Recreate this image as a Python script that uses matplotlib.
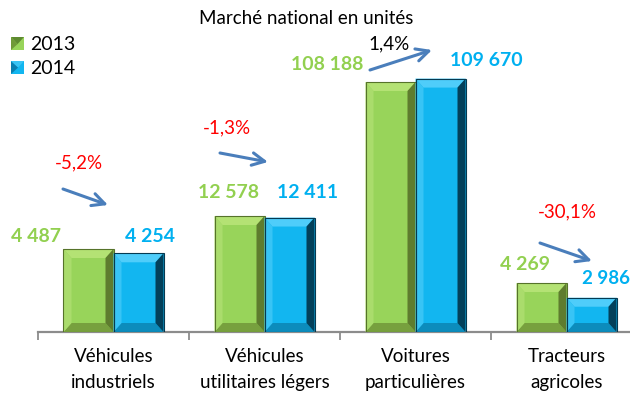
import matplotlib
matplotlib.use("Agg")
import matplotlib.pyplot as plt
from matplotlib.patches import Polygon, Rectangle

plt.rcParams['font.family'] = ['Lato', 'DejaVu Sans']

# ---- data ----
categories = ["Véhicules\nindustriels", "Véhicules\nutilitaires légers",
              "Voitures\nparticulières", "Tracteurs\nagricoles"]
series_names = ["2013", "2014"]
values_2013 = [4487, 12578, 108188, 4269]
values_2014 = [4254, 12411, 109670, 2986]
pct_change = ["-5,2%", "-1,3%", "1,4%", "-30,1%"]
title = "Marché national en unités"

# chart is not drawn to scale across categories: displayed height of 2013 bar per group (layout)
group_height = [83, 116, 250, 49]

W, H = 630, 401
fig = plt.figure(figsize=(W / 100, H / 100), dpi=100)
AX_L, AX_B, AX_W, AX_H = 38, 69, 604, 332
ax = fig.add_axes([AX_L / W, AX_B / H, AX_W / W, AX_H / H])
ax.set_xlim(-0.5, 3.5)
ax.set_ylim(0, AX_H)
ax.patch.set_alpha(0)

def px(x, y):
    """pixel (from top-left) -> data coords"""
    return ((x - AX_L) / 151.0 - 0.5, (H - AX_B) - y)

green = dict(face="#98d45a", top="#b4e274", left="#aadc6c", right="#5e7c2e", bottom="#77a03e", edge="#56732a")
blue = dict(face="#12b6f0", top="#4fcdfa", left="#38c4f5", right="#03405a", bottom="#0c8cbc", edge="#053a52")

bw = 50 / 151.0
xs = list(range(len(categories)))
h13 = [g for g in group_height]
h14 = [g * v14 / v13 for g, v13, v14 in zip(group_height, values_2013, values_2014)]

bars13 = ax.bar([x - bw / 2 for x in xs], h13, width=bw, color=green["face"], zorder=2)
bars14 = ax.bar([x + bw / 2 for x in xs], h14, width=bw, color=blue["face"], zorder=2)

def bevel(rect, c, bxp=8, byp=9):
    x0, y0 = rect.get_x(), rect.get_y()
    x1, y1 = x0 + rect.get_width(), y0 + rect.get_height()
    bx = bxp / 151.0
    by = min(byp, (y1 - y0) / 3)
    polys = [
        ([(x0, y1), (x1, y1), (x1 - bx, y1 - by), (x0 + bx, y1 - by)], c["top"]),
        ([(x0, y0), (x1, y0), (x1 - bx, y0 + by), (x0 + bx, y0 + by)], c["bottom"]),
        ([(x0, y0), (x0 + bx, y0 + by), (x0 + bx, y1 - by), (x0, y1)], c["left"]),
        ([(x1, y0), (x1 - bx, y0 + by), (x1 - bx, y1 - by), (x1, y1)], c["right"]),
    ]
    for pts, col in polys:
        ax.add_patch(Polygon(pts, closed=True, facecolor=col, edgecolor="none", zorder=3))
    ax.add_patch(Rectangle((x0, y0), x1 - x0, y1 - y0, fill=False, edgecolor=c["edge"], lw=0.8, zorder=4))

for r in bars13:
    bevel(r, green)
for r in bars14:
    bevel(r, blue)

# axis
for s in ["top", "right", "left"]:
    ax.spines[s].set_visible(False)
ax.spines["bottom"].set_color("#8c8c8c")
ax.spines["bottom"].set_linewidth(1.6)
ax.set_yticks([])
ax.set_xticks([-0.5, 0.5, 1.5, 2.5, 3.5])
ax.set_xticklabels([])
ax.tick_params(axis="x", length=6, width=1.3, color="#8c8c8c", direction="out")
for x, lab in zip(xs, categories):
    ax.text(x, -16, lab, ha="center", va="top", fontsize=13.5, color="#000000", linespacing=1.65)

def fmt(v):
    return f"{v:,}".replace(",", " ")

# value labels (pixel anchor positions)
lab13_pos = [(36, 236), (228, 193), (327, 65), (525, 265)]
lab14_pos = [(150, 236), (308, 193), (486, 60), (606, 279)]
for v, (x, y) in zip(values_2013, lab13_pos):
    ax.text(*px(x, y), fmt(v), ha="center", va="center", fontsize=14, fontweight="bold", color="#92d050")
for i, (v, (x, y)) in enumerate(zip(values_2014, lab14_pos)):
    fs = 13.5 if i == len(values_2014) - 1 else 14
    ax.text(*px(x, y), fmt(v), ha="center", va="center", fontsize=fs, fontweight="bold", color="#00b0f0")

pct_pos = [(79, 163), (227, 128), (389, 44), (567, 212)]
for p, (x, y) in zip(pct_change, pct_pos):
    col = "#ff0000" if p.startswith("-") else "#000000"
    ax.text(*px(x, y), p, ha="center", va="center", fontsize=13.5, color=col)

arrows = [((63, 189), (108, 205)), ((220, 153), (268, 162)),
          ((370, 70), (432, 50)), ((540, 243), (592, 261))]
for (s, e) in arrows:
    ax.annotate("", xy=px(*e), xytext=px(*s),
                arrowprops=dict(arrowstyle="->,head_length=0.9,head_width=0.45",
                                color="#4a7ebb", lw=2.2, shrinkA=0, shrinkB=0))

# title
fig.text(306 / W, 1 - 18 / H, title, ha="center", va="center", fontsize=13.5, color="#000000")

# legend
leg_cols = [green, blue]
for i, (name, c) in enumerate(zip(series_names, leg_cols)):
    y_top = 37 + i * 24
    lax = fig.add_axes([11 / W, 1 - (y_top + 13) / H, 13 / W, 13 / H])
    lax.set_xlim(0, 1); lax.set_ylim(0, 1); lax.axis("off")
    lax.add_patch(Rectangle((0, 0), 1, 1, facecolor=c["face"], edgecolor="none"))
    if i == 0:
        lax.add_patch(Polygon([(0, 1), (1, 1), (0.5, 0.45)], facecolor="#5e8a30", edgecolor="none"))
        lax.add_patch(Polygon([(0, 0), (0, 1), (0.5, 0.45)], facecolor="#6f9a38", edgecolor="none"))
    else:
        lax.add_patch(Polygon([(0, 0), (0, 1), (0.55, 0.5)], facecolor="#0a7fb0", edgecolor="none"))
        lax.add_patch(Polygon([(0, 1), (1, 1), (0.55, 0.5)], facecolor="#3ac4f4", edgecolor="none"))
    fig.text(30 / W, 1 - (y_top + 7) / H, name, ha="left", va="center", fontsize=14, color="#000000")

fig.savefig("out.png", dpi=100)
